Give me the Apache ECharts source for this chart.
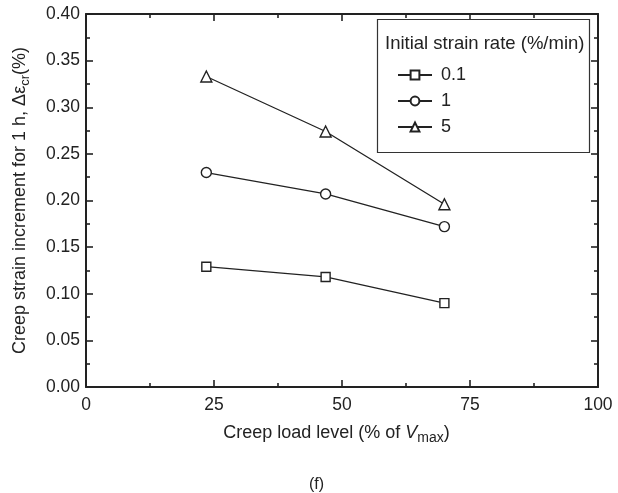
<!DOCTYPE html>
<html><head><meta charset="utf-8">
<script src="https://cdn.jsdelivr.net/npm/echarts@6/dist/echarts.min.js"></script>
<style>html,body{margin:0;padding:0;background:#fff}#c{width:618px;height:493px}</style>
</head><body><div id="c"></div>
<script>
const loadLevels = [23.5, 46.8, 70];
const rate01 = [0.129, 0.118, 0.090];
const rate1 = [0.230, 0.207, 0.172];
const rate5 = [0.333, 0.274, 0.196];
const seriesNames = ['0.1', '1', '5'];
const xTicks = [0, 25, 50, 75, 100];
const yTicks = [0, 0.05, 0.1, 0.15, 0.2, 0.25, 0.3, 0.35, 0.4];

const FONT = 'Liberation Sans, Arial, Helvetica, sans-serif';
const C = '#222';
const chart = echarts.init(document.getElementById('c'), null, {renderer: 'canvas'});
const pairs = v => loadLevels.map((x, i) => [x, v[i]]);
const triPath = 'path://M0,9 L5,0 L10,9 Z';
function mkSeries(name, data, symbol, size) {
  return {
    name, type: 'line', data: pairs(data), symbol, symbolSize: size,
    itemStyle: {color: '#fff', borderColor: C, borderWidth: 1.4},
    lineStyle: {color: C, width: 1.3},
    z: 3
  };
}
function axisCommon() {
  return {
    axisLine: {show: true, onZero: false, lineStyle: {color: C, width: 2}},
    axisTick: {show: true, inside: true, length: 7, lineStyle: {color: C, width: 1.6}},
    minorTick: {show: true, splitNumber: 2, length: 4, lineStyle: {color: C, width: 1.6}},
    splitLine: {show: false}
  };
}
const option = {
  animation: false,
  backgroundColor: '#fff',
  title: {text: '(f)', left: 304, top: 472, textStyle: {fontFamily: FONT, fontSize: 16, fontWeight: 'normal', color: C}},
  grid: {left: 86, right: 20, top: 14, bottom: 106},
  xAxis: [
    Object.assign(axisCommon(), {
      type: 'value', min: 0, max: 100, interval: 25, position: 'bottom',
      axisLabel: {fontFamily: FONT, fontSize: 17.5, color: C, margin: 9,
        formatter: v => xTicks.includes(v) ? String(v) : ''},
      name: '{a|Creep load level (% of }{i|V}{s|max}{a|)}',
      nameLocation: 'middle', nameGap: 34,
      nameTextStyle: {fontFamily: FONT, fontSize: 18, color: C, padding: [0, 11, 0, 0],
        rich: {a: {fontFamily: FONT, fontSize: 18, color: C},
               i: {fontFamily: FONT, fontSize: 18, color: C, fontStyle: 'italic'},
               s: {fontFamily: FONT, fontSize: 14, color: C, padding: [10, 0, 0, 0]}}}
    }),
    Object.assign(axisCommon(), {
      type: 'value', min: 0, max: 100, interval: 25, position: 'top',
      axisLabel: {show: false}
    })
  ],
  yAxis: [
    Object.assign(axisCommon(), {
      type: 'value', min: 0, max: 0.4, interval: 0.05, position: 'left',
      axisLabel: {fontFamily: FONT, fontSize: 17.5, color: C, margin: 6,
        formatter: v => v.toFixed(2)},
      name: '{a|Creep strain increment for 1 h, Δε}{s|cr}{a|(%)}',
      nameLocation: 'middle', nameGap: 54, nameRotate: 90,
      nameTextStyle: {fontFamily: FONT, fontSize: 18, color: C,
        rich: {a: {fontFamily: FONT, fontSize: 18, color: C},
               s: {fontFamily: FONT, fontSize: 13, color: C, padding: [10, 0, 0, 0]}}}
    }),
    Object.assign(axisCommon(), {
      type: 'value', min: 0, max: 0.4, interval: 0.05, position: 'right',
      axisLabel: {show: false}
    })
  ],
  legend: {
    data: seriesNames, orient: 'vertical', left: 392, top: 61,
    itemWidth: 34, itemHeight: 11, itemGap: 8,
    textStyle: {fontFamily: FONT, fontSize: 18, color: C, padding: [0, 0, 0, 4]},
    z: 20
  },
  graphic: [
    {type: 'rect', shape: {x: 377.5, y: 19.5, width: 212, height: 133},
     style: {fill: '#fff', stroke: '#333', lineWidth: 1.2}, z: 10},
    {type: 'text', left: 385, top: 34,
     style: {text: 'Initial strain rate (%/min)', font: '18.5px ' + FONT, fill: C}, z: 11}
  ],
  series: [
    mkSeries(seriesNames[0], rate01, 'rect', 9),
    mkSeries(seriesNames[1], rate1, 'circle', 10),
    mkSeries(seriesNames[2], rate5, triPath, 11)
  ]
};
chart.setOption(option);
</script></body></html>
